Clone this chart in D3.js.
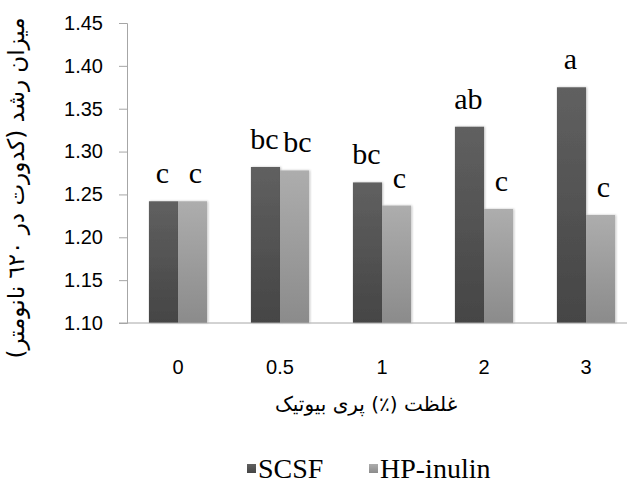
<!DOCTYPE html>
<html>
<head>
<meta charset="utf-8">
<script src="https://cdn.jsdelivr.net/npm/d3@7"></script>
<style>
  body { margin: 0; background: #fff; }
  svg { display: block; }
</style>
</head>
<body>
<svg id="chart" width="627" height="481"></svg>
<script>
var categories = ["0", "0.5", "1", "2", "3"];
var seriesNames = ["SCSF", "HP-inulin"];
var scsf = [1.242, 1.282, 1.264, 1.329, 1.375];
var hpInulin = [1.242, 1.278, 1.237, 1.233, 1.226];
var scsfLetters = ["c", "bc", "bc", "ab", "a"];
var hpLetters = ["c", "bc", "c", "c", "c"];
var yTicks = [1.10, 1.15, 1.20, 1.25, 1.30, 1.35, 1.40, 1.45];

var svg = d3.select("#chart");
var mLeft = 127, mRight = 637, mTop = 23, mBottom = 323;

var x = d3.scaleBand()
    .domain(categories)
    .range([mLeft, mRight])
    .paddingInner(0.43)
    .paddingOuter(0.215);

var xs = d3.scaleBand()
    .domain(seriesNames)
    .range([0, x.bandwidth()]);

var y = d3.scaleLinear()
    .domain([1.10, 1.45])
    .range([mBottom, mTop]);

var defs = svg.append("defs");
function grad(id, c1, c2) {
  var g = defs.append("linearGradient").attr("id", id)
      .attr("x1", 0).attr("y1", 0).attr("x2", 0).attr("y2", 1);
  g.append("stop").attr("offset", "0%").attr("stop-color", c1);
  g.append("stop").attr("offset", "100%").attr("stop-color", c2);
}
grad("g0", "#606060", "#454545");
grad("g1", "#adadad", "#8b8b8b");
var f = defs.append("filter").attr("id", "shadow")
    .attr("x", "-20%").attr("y", "-5%").attr("width", "140%").attr("height", "110%");
f.append("feDropShadow").attr("dx", 1).attr("dy", 0).attr("stdDeviation", 1)
    .attr("flood-color", "#000").attr("flood-opacity", 0.25);

var series = [scsf, hpInulin];
var letters = [scsfLetters, hpLetters];

// y axis
var yAxis = svg.append("g")
    .attr("transform", "translate(" + mLeft + ",0)")
    .call(d3.axisLeft(y).tickValues(yTicks).tickFormat(d3.format(".2f")).tickSize(8).tickPadding(16));
yAxis.select(".domain").attr("stroke", "#a6a6a6");
yAxis.selectAll(".tick line").attr("stroke", "#a6a6a6");
yAxis.selectAll(".tick text")
    .attr("font-family", "Liberation Sans, Arial, sans-serif")
    .attr("font-size", 20)
    .attr("fill", "#000");

// bars
categories.forEach(function(cat, i) {
  seriesNames.forEach(function(s, j) {
    var v = series[j][i];
    svg.append("rect")
        .attr("x", x(cat) + xs(s))
        .attr("y", y(v))
        .attr("width", xs.bandwidth())
        .attr("height", y(1.10) - y(v))
        .attr("fill", "url(#g" + j + ")")
        .attr("filter", "url(#shadow)");
    svg.append("text")
        .attr("x", x(cat) + xs(s) + xs.bandwidth() / 2 + (j ? 3 : -1))
        .attr("y", y(v) - 18)
        .attr("text-anchor", "middle")
        .attr("font-family", "Liberation Serif, Times New Roman, serif")
        .attr("font-size", 30)
        .text(letters[j][i]);
  });
});

// x axis
var xAxis = svg.append("g")
    .attr("transform", "translate(0," + mBottom + ")")
    .call(d3.axisBottom(x).tickSize(0).tickPadding(37));
xAxis.select(".domain").attr("stroke", "#a6a6a6").attr("d", "M" + (mLeft - 8) + ",0H" + mRight);
xAxis.selectAll(".tick text")
    .attr("font-family", "Liberation Sans, Arial, sans-serif")
    .attr("font-size", 20)
    .attr("fill", "#000");

// axis titles
svg.append("text")
    .attr("x", 366).attr("y", 411)
    .attr("text-anchor", "middle")
    .attr("font-family", "DejaVu Sans, sans-serif")
    .attr("font-size", 20)
    .attr("direction", "rtl")
    .text("غلظت (٪) پری بیوتیک");

svg.append("text")
    .attr("transform", "translate(24,188) rotate(-90)")
    .attr("text-anchor", "middle")
    .attr("font-family", "DejaVu Sans, sans-serif")
    .attr("font-size", 23)
    .attr("direction", "rtl")
    .text("میزان رشد (کدورت در ٦٢٠ نانومتر)");

// legend
var legend = svg.append("g");
var legX = [247, 369];
seriesNames.forEach(function(s, j) {
  legend.append("rect")
      .attr("x", legX[j]).attr("y", 464)
      .attr("width", 9).attr("height", 9)
      .attr("fill", "url(#g" + j + ")");
  legend.append("text")
      .attr("x", legX[j] + 11).attr("y", 478)
      .attr("font-family", "Liberation Serif, Times New Roman, serif")
      .attr("font-size", 28)
      .text(s);
});
</script>
</body>
</html>
